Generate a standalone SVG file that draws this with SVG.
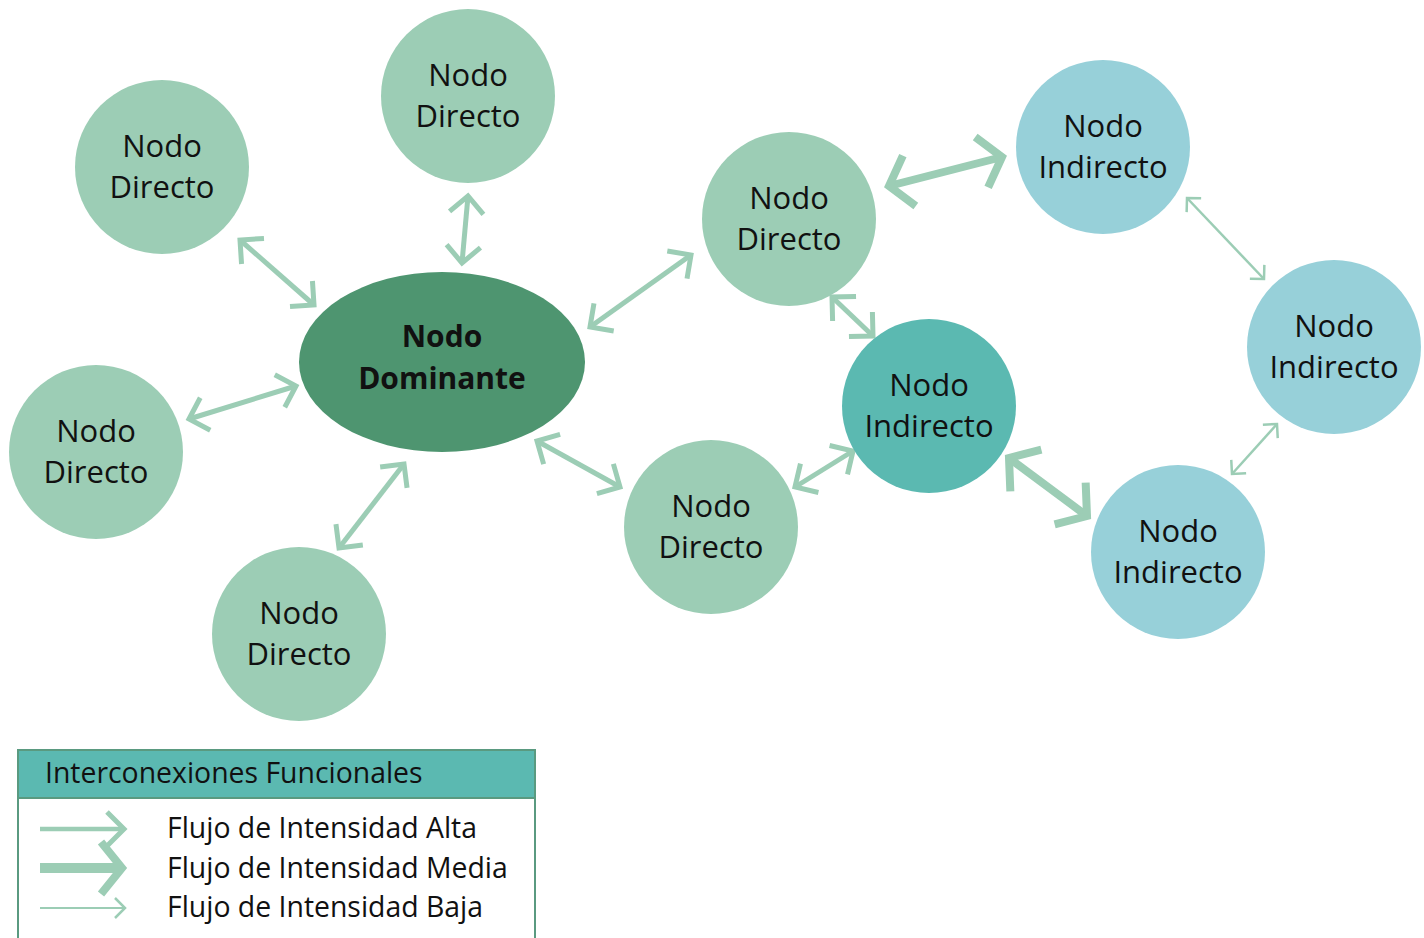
<svg xmlns="http://www.w3.org/2000/svg" width="1424" height="938" viewBox="0 0 1424 938">
<style>
.t{font-family:"Open Sans","Noto Sans",sans-serif;font-size:31px;fill:#111111;text-anchor:middle}
.b{font-weight:bold;font-size:30px}
.d{fill:#9ccdb5}
.i{fill:#97d0d9}
.a{fill:none;stroke:#9ccdb5;stroke-linecap:butt}
.alta{stroke-width:5;marker-start:url(#hA);marker-end:url(#hA)}
.media{stroke-width:8;marker-start:url(#hM);marker-end:url(#hM)}
.baja{stroke-width:2.5;marker-start:url(#hB);marker-end:url(#hB)}
.lg{font-family:"Open Sans","Noto Sans",sans-serif;font-size:28.4px;fill:#111111}
</style>
<defs>
<marker id="hA" markerUnits="userSpaceOnUse" viewBox="-40 -40 60 80" markerWidth="60" markerHeight="80" refX="0" refY="0" orient="auto-start-reverse" overflow="visible">
<path d="M-17,-17 L0,0 L-17,17" fill="none" stroke="#9ccdb5" stroke-width="5"/>
</marker>
<marker id="hM" markerUnits="userSpaceOnUse" viewBox="-40 -40 60 80" markerWidth="60" markerHeight="80" refX="0" refY="0" orient="auto-start-reverse" overflow="visible">
<path d="M-21,-26 L0,0 L-21,26" fill="none" stroke="#9ccdb5" stroke-width="8"/>
</marker>
<marker id="hB" markerUnits="userSpaceOnUse" viewBox="-40 -40 60 80" markerWidth="60" markerHeight="80" refX="0" refY="0" orient="auto-start-reverse" overflow="visible">
<path d="M-10,-10 L0,0 L-10,10" fill="none" stroke="#9ccdb5" stroke-width="2.5"/>
</marker>
</defs>
<rect width="1424" height="938" fill="#ffffff"/>

<g id="connectors">
<line class="a alta" x1="240" y1="240" x2="314" y2="305"/>
<line class="a alta" x1="468" y1="196" x2="462" y2="263"/>
<line class="a alta" x1="189" y1="419" x2="296" y2="386"/>
<line class="a alta" x1="339" y1="548" x2="404" y2="464"/>
<line class="a alta" x1="590" y1="327" x2="691" y2="255"/>
<line class="a alta" x1="537" y1="441" x2="620" y2="487"/>
<line class="a alta" x1="795" y1="487" x2="853" y2="451"/>
<line class="a alta" x1="832" y1="297" x2="873" y2="336"/>
<line class="a media" x1="889" y1="186" x2="1002" y2="157"/>
<line class="a media" x1="1009" y1="458" x2="1087" y2="516"/>
<line class="a baja" x1="1187" y1="198" x2="1264" y2="279"/>
<line class="a baja" x1="1277" y1="424" x2="1232" y2="474"/>
</g>

<g id="nodo-dominante">
<ellipse cx="442" cy="362" rx="143" ry="90" fill="#4e9570"/>
<text class="t b" x="442" y="347">Nodo</text>
<text class="t b" x="442" y="389">Dominante</text>
</g>

<g id="directo-1">
<circle class="d" cx="162" cy="167" r="87"/>
<text class="t" x="162" y="157">Nodo</text>
<text class="t" x="162" y="198">Directo</text>
</g>
<g id="directo-2">
<circle class="d" cx="468" cy="96" r="87"/>
<text class="t" x="468" y="86">Nodo</text>
<text class="t" x="468" y="127">Directo</text>
</g>
<g id="directo-3">
<circle class="d" cx="96" cy="452" r="87"/>
<text class="t" x="96" y="442">Nodo</text>
<text class="t" x="96" y="483">Directo</text>
</g>
<g id="directo-4">
<circle class="d" cx="299" cy="634" r="87"/>
<text class="t" x="299" y="624">Nodo</text>
<text class="t" x="299" y="665">Directo</text>
</g>
<g id="directo-5">
<circle class="d" cx="789" cy="219" r="87"/>
<text class="t" x="789" y="209">Nodo</text>
<text class="t" x="789" y="250">Directo</text>
</g>
<g id="directo-6">
<circle class="d" cx="711" cy="527" r="87"/>
<text class="t" x="711" y="517">Nodo</text>
<text class="t" x="711" y="558">Directo</text>
</g>

<g id="indirecto-1">
<circle cx="929" cy="406" r="87" fill="#5bb9b1"/>
<text class="t" x="929" y="396">Nodo</text>
<text class="t" x="929" y="437">Indirecto</text>
</g>
<g id="indirecto-2">
<circle class="i" cx="1103" cy="147" r="87"/>
<text class="t" x="1103" y="137">Nodo</text>
<text class="t" x="1103" y="178">Indirecto</text>
</g>
<g id="indirecto-3">
<circle class="i" cx="1334" cy="347" r="87"/>
<text class="t" x="1334" y="337">Nodo</text>
<text class="t" x="1334" y="378">Indirecto</text>
</g>
<g id="indirecto-4">
<circle class="i" cx="1178" cy="552" r="87"/>
<text class="t" x="1178" y="542">Nodo</text>
<text class="t" x="1178" y="583">Indirecto</text>
</g>

<g id="leyenda">
<rect x="18" y="750" width="517" height="200" fill="#ffffff" stroke="#5a9a80" stroke-width="2"/>
<rect x="18" y="750" width="517" height="48" fill="#5bb9b1" stroke="#5a9a80" stroke-width="2"/>
<text class="lg" x="45" y="783" font-size="26.5">Interconexiones Funcionales</text>
<line x1="40" y1="829" x2="124" y2="829" stroke="#9ccdb5" stroke-width="4.5" marker-end="url(#hA)"/>
<line x1="40" y1="868" x2="122" y2="868" stroke="#9ccdb5" stroke-width="10" marker-end="url(#hM)"/>
<line x1="40" y1="908" x2="125" y2="908" stroke="#9ccdb5" stroke-width="2" marker-end="url(#hB)"/>
<text class="lg" x="167" y="838">Flujo de Intensidad Alta</text>
<text class="lg" x="167" y="878">Flujo de Intensidad Media</text>
<text class="lg" x="167" y="917">Flujo de Intensidad Baja</text>
</g>
</svg>
